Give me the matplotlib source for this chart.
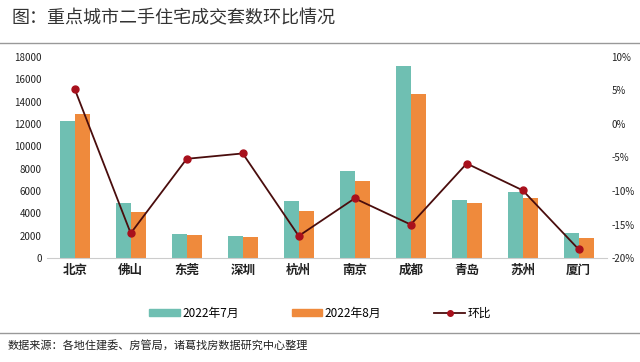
import numpy as np
import matplotlib.pyplot as plt
from matplotlib.patches import Patch
from matplotlib.lines import Line2D

plt.rcParams['font.family'] = ['Noto Sans CJK SC', 'DejaVu Sans']

cities = ['北京', '佛山', '东莞', '深圳', '杭州', '南京', '成都', '青岛', '苏州', '厦门']
jul = [12250, 4900, 2200, 1950, 5100, 7800, 17200, 5190, 5880, 2240]
aug = [12900, 4100, 2050, 1900, 4200, 6900, 14650, 4900, 5340, 1820]
mom = [5.2, -16.3, -5.2, -4.4, -16.7, -11.1, -15.0, -5.9, -9.9, -18.7]

teal = '#6fbfb2'
orange = '#ef8a3c'
line_c = '#4a0d0d'
mark_c = '#a8101c'

fig = plt.figure(figsize=(6.4, 3.62), dpi=100)
ax = fig.add_axes([0.073, 0.287, 0.875, 0.556])
x = np.arange(len(cities))
w = 0.27
ax.bar(x - w / 2, jul, w, color=teal)
ax.bar(x + w / 2, aug, w, color=orange)
ax.set_xlim(-0.5, len(cities) - 0.5)
ax.set_ylim(0, 18000)
ax.set_yticks(range(0, 18001, 2000))
ax.set_xticks(x)
ax.set_xticklabels(cities, fontsize=9, color='#222', fontweight='bold')
ax.tick_params(axis='y', labelsize=7, colors='#222', length=0)
ax.tick_params(axis='x', length=0, pad=4)
for s in ['top', 'right', 'left']:
    ax.spines[s].set_visible(False)
ax.spines['bottom'].set_color('#cccccc')

ax2 = ax.twinx()
ax2.plot(x, mom, color=line_c, lw=1.3, marker='o', ms=5,
         markerfacecolor=mark_c, markeredgecolor=mark_c)
ax2.set_ylim(-20, 10)
ax2.set_yticks(range(-20, 11, 5))
ax2.set_yticklabels([f'{v}%' for v in range(-20, 11, 5)])
ax2.tick_params(axis='y', labelsize=7, colors='#222', length=0)
for s in ax2.spines.values():
    s.set_visible(False)

handles = [Patch(color=teal, label='2022年7月'),
           Patch(color=orange, label='2022年8月'),
           Line2D([0], [0], color=line_c, lw=1.3, marker='o', ms=4,
                  markerfacecolor=mark_c, markeredgecolor=mark_c, label='环比')]
fig.legend(handles=handles, loc='center', bbox_to_anchor=(0.5, 0.135), ncol=3,
           frameon=False, fontsize=8.5, columnspacing=4.5, handlelength=2.6,
           handleheight=0.6, handletextpad=0.2)

fig.text(0.018, 0.95, '图：重点城市二手住宅成交套数环比情况', fontsize=13,
         color='#333', va='center')
fig.add_artist(Line2D([0, 1], [0.88, 0.88], color='#999', lw=1, transform=fig.transFigure))
fig.add_artist(Line2D([0, 1], [0.08, 0.08], color='#999', lw=1, transform=fig.transFigure))
fig.text(0.012, 0.045, '数据来源：各地住建委、房管局，诸葛找房数据研究中心整理',
         fontsize=8, color='#222', va='center')

fig.savefig('out.png', dpi=100)
